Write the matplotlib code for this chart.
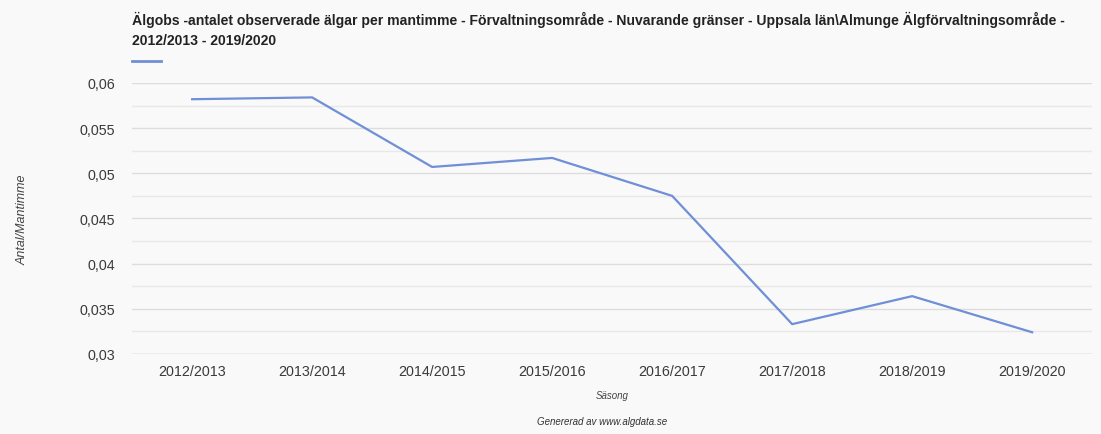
import matplotlib.pyplot as plt
import numpy as np

plt.rcParams['font.family'] = ['Liberation Sans', 'DejaVu Sans']

sasonger = ['2012/2013', '2013/2014', '2014/2015', '2015/2016',
            '2016/2017', '2017/2018', '2018/2019', '2019/2020']
antal_per_mantimme = [0.0582, 0.0584, 0.0507, 0.0517, 0.0475, 0.0333, 0.0364, 0.0324]
yticks = [0.03, 0.035, 0.04, 0.045, 0.05, 0.055, 0.06]
ytick_labels = ['0,03', '0,035', '0,04', '0,045', '0,05', '0,055', '0,06']

bg = '#f9f9f9'
line_color = '#6f8fd6'

fig = plt.figure(figsize=(11.01, 4.35), dpi=100, facecolor=bg)
ax = fig.add_axes([0.12, 0.184, 0.872, 0.623], facecolor=bg)

x = np.arange(len(sasonger))
ax.plot(x, antal_per_mantimme, color=line_color, linewidth=1.6)

ax.set_xlim(-0.5, len(sasonger) - 0.5)
ax.set_ylim(0.03, 0.06)
ax.set_xticks(x)
ax.set_xticklabels(sasonger, fontsize=10.3, color='#3a3a3a')
ax.set_yticks(yticks)
ax.set_yticklabels(ytick_labels, fontsize=10.3, color='#3a3a3a')
ax.set_yticks(np.arange(0.0325, 0.06, 0.005), minor=True)
ax.tick_params(axis='x', length=0, pad=7)
ax.tick_params(axis='y', length=0, pad=12)
ax.tick_params(axis='y', which='minor', length=0)
ax.grid(axis='y', which='major', color='#dddddd', linewidth=1)
ax.grid(axis='y', which='minor', color='#e8e8e8', linewidth=1)
for s in ax.spines.values():
    s.set_visible(False)
ax.axhline(0.03, color='#d0d0d0', linewidth=1)
ax.set_axisbelow(True)

ax.set_ylabel('Antal/Mantimme', fontsize=9, style='italic', color='#444444')
ax.yaxis.set_label_coords(-0.108, 0.5)
ax.set_xlabel('Säsong', fontsize=7, style='italic', color='#444444', labelpad=9)

fig.text(0.12, 0.973, 'Älgobs -antalet observerade älgar per mantimme - Förvaltningsområde - '
         'Nuvarande gränser - Uppsala län\\Almunge Älgförvaltningsområde -\n2012/2013 - 2019/2020',
         fontsize=10.1, fontweight='bold', color='#222222', va='top', linespacing=1.6)
fig.lines.append(plt.Line2D([0.12, 0.146], [0.857, 0.857], transform=fig.transFigure,
                            color=line_color, linewidth=2))
fig.text(0.547, 0.022, 'Genererad av www.algdata.se', fontsize=7, style='italic',
         color='#333333', ha='center')

fig.savefig('out.png', dpi=100, facecolor=bg)
